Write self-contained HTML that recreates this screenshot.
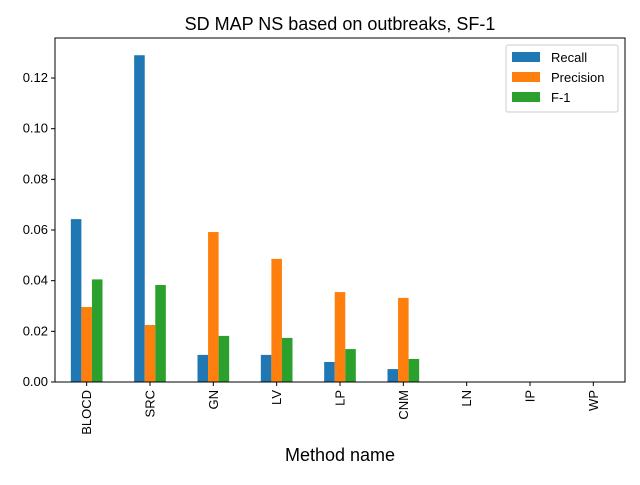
<!DOCTYPE html>
<html><head><meta charset="utf-8"><style>body{margin:0;background:#fff}svg{font-family:"Liberation Sans","DejaVu Sans",sans-serif}</style></head>
<body>
<svg id="chart" width="640" height="480" viewBox="0 0 640 480">
<text x="340" y="30" font-size="18" text-anchor="middle">SD MAP NS based on outbreaks, SF-1</text>
<g id="bars"></g>
<g id="axes"></g>
<text x="340" y="461" font-size="18" text-anchor="middle">Method name</text>
<g>
<rect x="506" y="45" width="112" height="67" fill="#fff" stroke="#ccc" rx="2"/>
<rect x="512" y="52" width="28" height="10" fill="#1f77b4"/>
<text x="551" y="62" font-size="13">Recall</text>
<rect x="512" y="72" width="28" height="10" fill="#ff7f0e"/>
<text x="551" y="82" font-size="13">Precision</text>
<rect x="512" y="92" width="28" height="10" fill="#2ca02c"/>
<text x="551" y="102" font-size="13">F-1</text>
</g>
</svg>
<script>
const categories = ["BLOCD","SRC","GN","LV","LP","CNM","LN","IP","WP"];
const recall = [0.0643,0.129,0.0107,0.0107,0.0079,0.0051,0,0,0];
const precision = [0.0296,0.0225,0.0592,0.0486,0.0355,0.0332,0,0,0];
const f1 = [0.0405,0.0383,0.0182,0.0174,0.013,0.0091,0,0,0];
const yTicks = [0,0.02,0.04,0.06,0.08,0.10,0.12];
const yTickLabels = ["0.00","0.02","0.04","0.06","0.08","0.10","0.12"];
const L=55,R=625,T=38,B=382;
const yMax=0.1358;
function y(v){return B-(v/yMax)*(B-T);}
const step=(R-L)/categories.length;
function xc(i){return L+step*(i+0.5);}
const bw=step*0.5/3;
const NS="http://www.w3.org/2000/svg";
const bars=document.getElementById('bars'), axes=document.getElementById('axes');
function mk(tag,attrs,parent){const e=document.createElementNS(NS,tag);for(const k in attrs)e.setAttribute(k,attrs[k]);parent.appendChild(e);return e;}
const series=[[recall,"#1f77b4","recall"],[precision,"#ff7f0e","precision"],[f1,"#2ca02c","f1"]];
series.forEach((s,si)=>{s[0].forEach((v,i)=>{
 const r=mk('rect',{x:xc(i)+(si-1.5)*bw,y:y(v),width:bw,height:B-y(v),fill:s[1]},bars);
 
 
});});
const frame=mk('rect',{x:L,y:T,width:R-L,height:B-T,fill:'none',stroke:'#000','stroke-width':1},axes);


yTicks.forEach((t,i)=>{
 mk('line',{x1:L-4,x2:L,y1:y(t),y2:y(t),stroke:'#000'},axes);
 const tx=mk('text',{x:L-7,y:y(t)+4,'font-size':13,'text-anchor':'end'},axes);
 tx.textContent=yTickLabels[i];
 
 
});
categories.forEach((c,i)=>{
 mk('line',{x1:xc(i),x2:xc(i),y1:B,y2:B+4,stroke:'#000'},axes);
 const tx=mk('text',{x:0,y:0,'font-size':13,'text-anchor':'end',transform:`translate(${xc(i)+4.5},${B+8}) rotate(-90)`},axes);
 tx.textContent=c;
 
 
});
</script>
</body></html>
